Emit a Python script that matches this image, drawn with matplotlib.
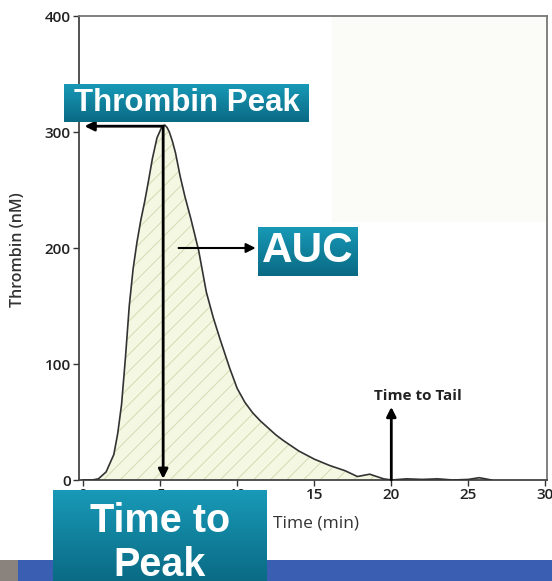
import numpy as np
import matplotlib
matplotlib.use("Agg")
import matplotlib.pyplot as plt
from matplotlib.colors import LinearSegmentedColormap
from matplotlib.patches import Rectangle

# thrombin generation curve
time_min = [0, 0.6, 1.0, 1.5, 2.0, 2.25, 2.5, 2.75, 3.0, 3.25, 3.5, 3.75, 4.0,
            4.25, 4.5, 4.8, 5.0, 5.1, 5.2, 5.3, 5.45, 5.6, 5.8, 6.0, 6.3, 6.6,
            7.0, 7.5, 8.0, 8.45, 8.9, 9.5, 10.0, 10.5, 11.0, 11.5, 12.0, 12.5,
            13.0, 14.0, 15.0, 16.0, 17.0, 17.8, 18.6, 19.5, 20.0, 21.0, 22.0,
            23.0, 24.0, 25.0, 25.7, 26.5]
thrombin_nm = [0, 0, 1, 7, 22, 40, 65, 105, 150, 182, 205, 224, 240,
               258, 277, 295, 301, 304, 305.5, 306, 304, 300, 292, 282, 262, 245,
               225, 198, 162, 140, 121, 97, 79, 67, 58, 51, 45, 39,
               34, 25, 18, 12.5, 8, 3, 5, 1, 0, 1, 0.5,
               1, 0, 0.5, 2, 0]

y_ticks = [0, 100, 200, 300, 400]
x_ticks = [0, 5, 10, 15, 20, 25, 30]

peak_time = 5.2
peak_value = 305
auc_y = 200
tail_time = 20

W, H = 552, 581
plt.rcParams['hatch.linewidth'] = 0.7

fig = plt.figure(figsize=(W / 100, H / 100), dpi=100)
ax = fig.add_axes([79 / W, 101 / H, 468 / W, 464 / H])

# faint grey patch in the upper right of the plot
ax.add_patch(Rectangle((0.54, 0.555), 0.46, 0.445, transform=ax.transAxes,
                       facecolor='#fbfbf7', edgecolor='none', zorder=0))

ax.fill_between(time_min, thrombin_nm, 0, facecolor='#f4f8e3',
                edgecolor='#d2dab2', hatch='//', linewidth=0, zorder=1)
ax.plot(time_min, thrombin_nm, color='#333333', lw=1.2, zorder=3)

arrow = dict(arrowstyle='-|>', color='black', lw=2, mutation_scale=14,
             shrinkA=0, shrinkB=0)
ax.annotate('', xy=(0.1, peak_value), xytext=(peak_time, peak_value),
            arrowprops=arrow, zorder=4)
ax.annotate('', xy=(peak_time, 1), xytext=(peak_time, peak_value),
            arrowprops=arrow, zorder=4)
ax.annotate('', xy=(11.2, auc_y), xytext=(6.2, auc_y),
            arrowprops=dict(arrow, lw=1.5), zorder=4)
ax.annotate('', xy=(tail_time, 63), xytext=(tail_time, 0),
            arrowprops=arrow, zorder=4)
ax.text(21.7, 72, 'Time to Tail', ha='center', va='center', fontsize=11,
        fontweight='bold', family='Open Sans', color='#222222')

ax.set_xlim(-0.26, 30.1)
ax.set_ylim(0, 400)
ax.set_xticks(x_ticks)
ax.set_yticks(y_ticks)
ax.tick_params(direction='out', length=4, width=1, colors='#333333',
               labelcolor='#222222', labelsize=11, pad=2)
for lab in ax.get_xticklabels() + ax.get_yticklabels():
    lab.set_family('Open Sans')
    lab.set_fontweight('semibold')
for s in ['left', 'bottom']:
    ax.spines[s].set_color('#444444')
    ax.spines[s].set_linewidth(1.3)
for s in ['top', 'right']:
    ax.spines[s].set_color('#777777')
    ax.spines[s].set_linewidth(1.3)

fig.text(18 / W, 1 - 250 / H, 'Thrombin (nM)', rotation=90, ha='center',
         va='center', fontsize=11.5, family='Open Sans', fontweight='semibold',
         color='#333333')
fig.text(316 / W, 1 - 524 / H, 'Time (min)', ha='center', va='center',
         fontsize=12.5, family='Open Sans', color='#333333')

# blue slide footer and thumbnail
fig.patches.append(Rectangle((18 / W, 0), 1 - 18 / W, 21 / H,
                             transform=fig.transFigure, facecolor='#3a5eb2',
                             edgecolor='none', zorder=1))
fig.patches.append(Rectangle((0, 0), 18 / W, 21 / H, transform=fig.transFigure,
                             facecolor='#8a837d', edgecolor='none', zorder=1))

teal = LinearSegmentedColormap.from_list('teal', ['#0a6a84', '#1899b7'])
grad = np.linspace(0, 1, 64).reshape(-1, 1)


def label_box(x0, y0, x1, y1, text, size, ty=0.5, spacing=1.05):
    bax = fig.add_axes([x0 / W, 1 - y1 / H, (x1 - x0) / W, (y1 - y0) / H])
    bax.set_zorder(5)
    bax.imshow(grad, aspect='auto', cmap=teal, origin='lower',
               extent=[0, 1, 0, 1])
    bax.axis('off')
    bax.text(0.5, ty, text, ha='center', va='center', color='white',
             fontsize=size, fontweight='bold', family='Liberation Sans',
             linespacing=spacing, transform=bax.transAxes)


label_box(64, 84, 309, 122, 'Thrombin Peak', 22.5)
label_box(258, 227, 358, 276, 'AUC', 30.5)
label_box(53, 490, 267, 583, 'Time to\nPeak', 28.5, ty=0.43, spacing=1.2)

fig.savefig('out.png', dpi=100)
